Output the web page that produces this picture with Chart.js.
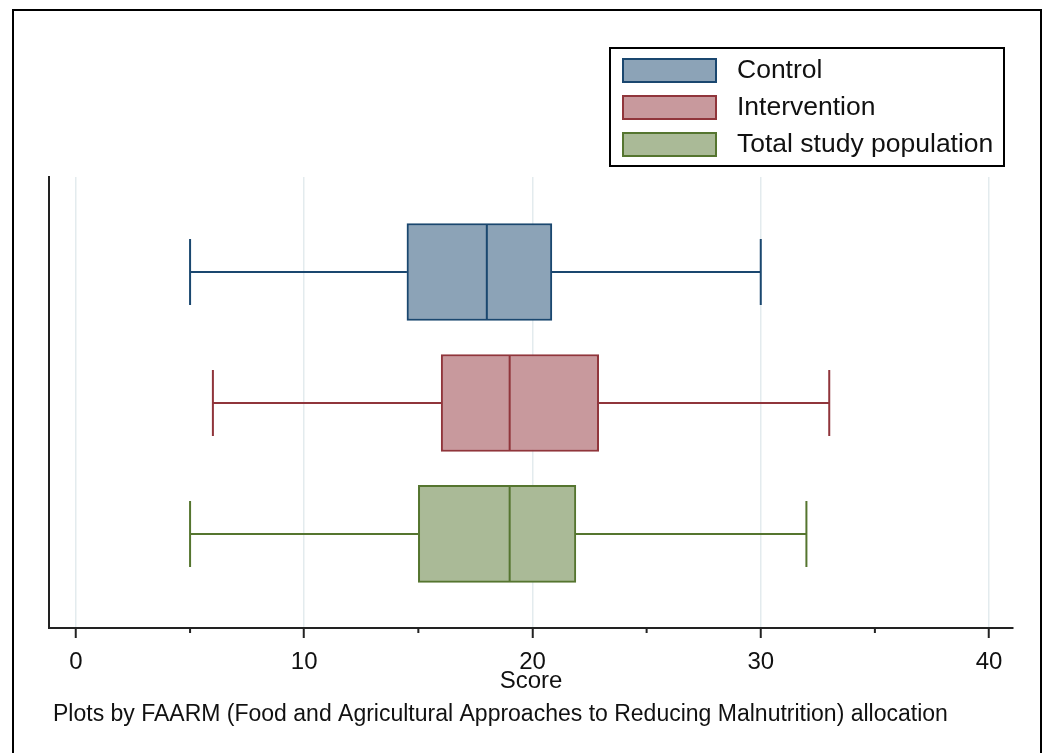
<!DOCTYPE html>
<html>
<head>
<meta charset="utf-8">
<title>Score by FAARM allocation</title>
<script src="https://cdn.jsdelivr.net/npm/chart.js@4.4.1/dist/chart.umd.min.js"></script>
<style>
    html, body { margin: 0; padding: 0; background: #fff; }
    canvas { display: block; }
</style>
</head>
<body>
<canvas id="scoreChart" width="1045" height="753"></canvas>
<script>
// box plot values
const groups = ["Control", "Intervention", "Total study population"];
const whiskerLow = [5, 6, 5];
const lowerQuartile = [14.5, 16, 15];
const medianScore = [18, 19, 19];
const upperQuartile = [20.85, 22.9, 21.9];
const whiskerHigh = [30, 33, 32];
const xTicks = [0, 10, 20, 30, 40];
const footnote = "Plots by FAARM (Food and Agricultural Approaches to Reducing Malnutrition) allocation";

const fillColors = ["#8ca3b7", "#c8999d", "#aaba97"];
const lineColors = ["#1a476f", "#90353b", "#55752f"];
const FONT = "'Liberation Sans', Arial, sans-serif";
const INK = "#111";

const datasets = groups.map((name, i) => ({
    label: name,
    data: [{ x: [lowerQuartile[i], upperQuartile[i]], y: i }],
    backgroundColor: fillColors[i],
    borderColor: lineColors[i],
    borderWidth: 2,
    borderSkipped: false,
    grouped: false,
    barThickness: 97,
}));

// whiskers, caps and medians, placed through the chart scales
const boxWhiskers = {
    id: "boxWhiskers",
    afterDatasetsDraw(chart) {
        const { ctx, scales: { x, y } } = chart;
        ctx.save();
        ctx.lineWidth = 2;
        groups.forEach((g, i) => {
            const yc = y.getPixelForValue(i);
            const lo = x.getPixelForValue(whiskerLow[i]);
            const hi = x.getPixelForValue(whiskerHigh[i]);
            const med = x.getPixelForValue(medianScore[i]);
            ctx.strokeStyle = lineColors[i];
            ctx.beginPath();
            ctx.moveTo(lo, yc);
            ctx.lineTo(x.getPixelForValue(lowerQuartile[i]), yc);
            ctx.moveTo(x.getPixelForValue(upperQuartile[i]), yc);
            ctx.lineTo(hi, yc);
            ctx.moveTo(lo, yc - 33);
            ctx.lineTo(lo, yc + 33);
            ctx.moveTo(hi, yc - 33);
            ctx.lineTo(hi, yc + 33);
            ctx.moveTo(med, yc - 47);
            ctx.lineTo(med, yc + 47);
            ctx.stroke();
        });
        ctx.restore();
    }
};

// minor tick marks, legend box, footnote and outer frame
const decorations = {
    id: "decorations",
    afterDraw(chart) {
        const { ctx, scales: { x } } = chart;
        ctx.save();

        ctx.strokeStyle = "#222";
        ctx.lineWidth = 2;
        ctx.beginPath();
        x.ticks.forEach(t => {
            if (xTicks.includes(t.value)) return;
            const px = x.getPixelForValue(t.value);
            ctx.moveTo(px, x.top);
            ctx.lineTo(px, x.top + 5);
        });
        ctx.stroke();

        // legend
        ctx.strokeStyle = "#000";
        ctx.strokeRect(610, 48, 394, 118);
        ctx.font = "26.5px " + FONT;
        ctx.textBaseline = "middle";
        ctx.textAlign = "left";
        groups.forEach((g, i) => {
            const top = 59 + 37 * i;
            ctx.fillStyle = fillColors[i];
            ctx.fillRect(623, top, 93, 23);
            ctx.strokeStyle = lineColors[i];
            ctx.strokeRect(623, top, 93, 23);
            ctx.fillStyle = INK;
            ctx.fillText(g, 737, top + 12);
        });

        ctx.font = "23px " + FONT;
        ctx.fillStyle = INK;
        ctx.fillText(footnote, 53, 715);

        ctx.strokeStyle = "#000";
        ctx.lineWidth = 2;
        ctx.strokeRect(13, 10, 1028, 760);
        ctx.restore();
    }
};

new Chart(document.getElementById("scoreChart"), {
    type: "bar",
    data: { datasets },
    options: {
        indexAxis: "y",
        responsive: false,
        animation: false,
        layout: { padding: { left: 49, top: 177, right: 32, bottom: 61 } },
        plugins: {
            legend: { display: false },
            tooltip: { enabled: false },
        },
        scales: {
            x: {
                type: "linear",
                min: -1.18,
                max: 41.05,
                afterFit: scale => { scale.height = 64; },
                ticks: {
                    stepSize: 5,
                    includeBounds: false,
                    autoSkip: false,
                    maxRotation: 0,
                    padding: 14,
                    color: INK,
                    font: { family: FONT, size: 24, lineHeight: 0.85 },
                    callback: v => xTicks.includes(v) ? String(v) : "",
                },
                grid: {
                    color: c => c.tick && xTicks.includes(c.tick.value) ? "#e3ebee" : "rgba(0,0,0,0)",
                    lineWidth: 1.5,
                    tickLength: 10,
                    tickWidth: 2,
                    tickColor: c => c.tick && xTicks.includes(c.tick.value) ? "#222" : "rgba(0,0,0,0)",
                },
                border: { color: "#222", width: 2 },
                title: {
                    display: true,
                    text: "Score",
                    color: INK,
                    font: { family: FONT, size: 24, lineHeight: 0.85 },
                    padding: 0,
                },
            },
            y: {
                type: "linear",
                reverse: true,
                offset: false,
                min: -0.725,
                max: 2.718,
                afterFit: scale => { scale.width = 0; },
                ticks: { display: false },
                grid: { display: false, offset: false },
                border: { color: "#222", width: 2 },
            },
        },
    },
    plugins: [boxWhiskers, decorations],
});
</script>
</body>
</html>
